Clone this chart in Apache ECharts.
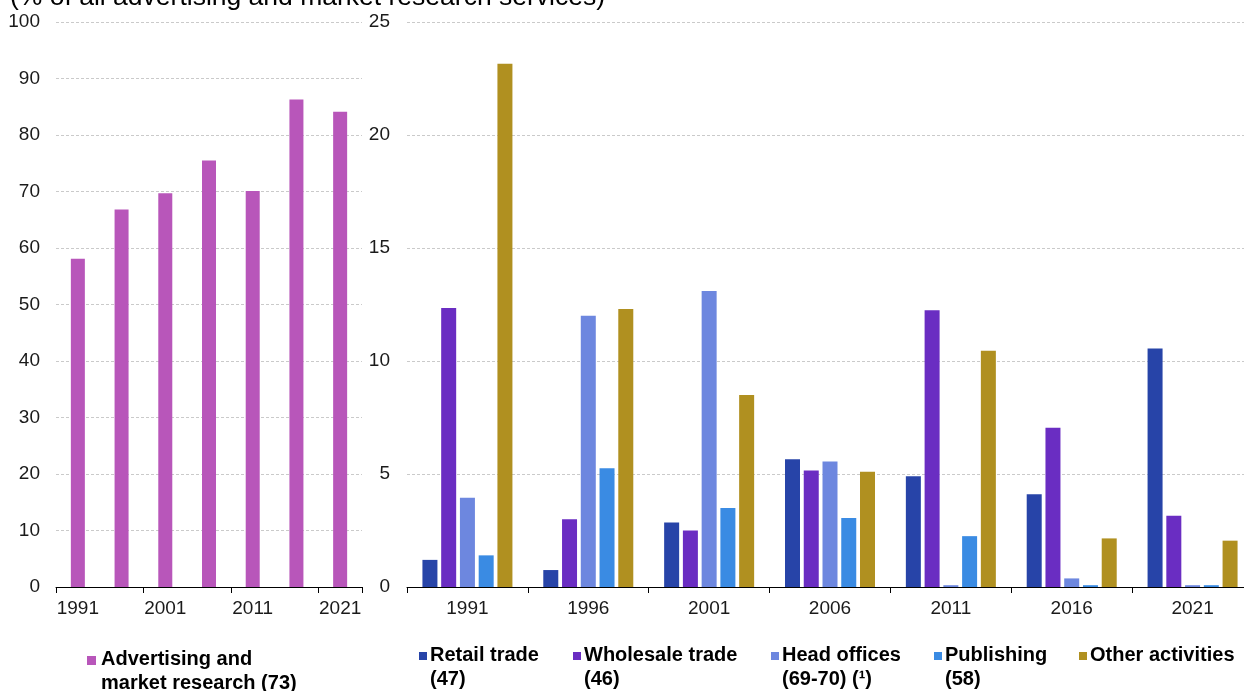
<!DOCTYPE html>
<html>
<head>
<meta charset="utf-8">
<script src="https://cdn.jsdelivr.net/npm/echarts@6/dist/echarts.min.js"></script>
<style>
  html, body { margin: 0; padding: 0; background: #fff; overflow: hidden; width: 1244px; height: 691px; }
  /* canvas is a little wider than the page so the right panel runs off the edge */
  #chart { width: 1254px; height: 691px; }
</style>
</head>
<body>
<div id="chart"></div>
<script>
// Census years shared by both panels
const years = ['1991', '1996', '2001', '2006', '2011', '2016', '2021'];

// Left panel: advertising and market research (% of all services)
const advertising = [58.1, 66.8, 69.7, 75.5, 70.1, 86.3, 84.1];

// Right panel: other activities (% of all services)
const retail = [1.2, 0.75, 2.85, 5.65, 4.9, 4.1, 10.55];
const wholesale = [12.35, 3.0, 2.5, 5.15, 12.25, 7.05, 3.15];
const headOffices = [3.95, 12.0, 13.1, 5.55, 0.08, 0.38, 0.08];
const publishing = [1.4, 5.25, 3.5, 3.05, 2.25, 0.08, 0.08];
const otherActivities = [23.15, 12.3, 8.5, 5.1, 10.45, 2.15, 2.05];

const leftTicks = [0, 10, 20, 30, 40, 50, 60, 70, 80, 90, 100];
const rightTicks = [0, 5, 10, 15, 20, 25];

const titleText = '(% of all advertising and market research services)';

const FONT = "'Liberation Sans', Arial, sans-serif";

const colors = {
  advertising: '#b856ba',
  retail: '#2744a8',
  wholesale: '#6a2dc2',
  headOffices: '#6d87df',
  publishing: '#3a8be3',
  other: '#b09020'
};

const legendLeft = [
  { name: 'Advertising and\nmarket research (73)', color: colors.advertising, x: 87 }
];
const legendRight = [
  { name: 'Retail trade\n(47)', color: colors.retail, x: 419 },
  { name: 'Wholesale trade\n(46)', color: colors.wholesale, x: 573 },
  { name: 'Head offices\n(69-70) (\u00b9)', color: colors.headOffices, x: 771 },
  { name: 'Publishing\n(58)', color: colors.publishing, x: 934 },
  { name: 'Other activities', color: colors.other, x: 1079 }
];

function legendGraphics(items, squareY, textY, textGap, size) {
  const out = [];
  items.forEach(it => {
    out.push({
      type: 'rect',
      shape: { x: it.x, y: squareY, width: size, height: size },
      style: { fill: it.color }
    });
    out.push({
      type: 'text',
      x: it.x + textGap,
      y: textY,
      style: {
        text: it.name,
        font: 'bold 20px ' + FONT,
        fill: '#000',
        lineHeight: 24,
        verticalAlign: 'top',
        align: 'left'
      }
    });
  });
  return out;
}

const axisLabelStyle = { color: '#1a1a1a', fontSize: 19, fontFamily: FONT };
const splitLineStyle = { show: true, lineStyle: { color: '#cacaca', type: [3, 2], width: 1 } };

const chart = echarts.init(document.getElementById('chart'), null, { renderer: 'canvas' });

function barSeries(name, data, color) {
  return {
    name: name,
    type: 'bar',
    xAxisIndex: 1,
    yAxisIndex: 1,
    data: data,
    barWidth: 15,
    barGap: '25%',
    itemStyle: { color: color }
  };
}

chart.setOption({
  backgroundColor: '#fff',
  animation: false,
  grid: [
    { left: 56, top: 22, width: 306, bottom: 104, containLabel: false },
    { left: 407, top: 22, width: 846, bottom: 104, containLabel: false }
  ],
  xAxis: [
    {
      gridIndex: 0,
      type: 'category',
      data: years,
      axisLine: { show: true, lineStyle: { color: '#000', width: 1 } },
      axisTick: { show: true, length: 6, lineStyle: { color: '#000' } },
      axisLabel: Object.assign({ interval: 1, margin: 12 }, axisLabelStyle)
    },
    {
      gridIndex: 1,
      type: 'category',
      data: years,
      axisLine: { show: true, lineStyle: { color: '#000', width: 1 } },
      axisTick: { show: true, length: 6, lineStyle: { color: '#000' } },
      axisLabel: Object.assign({ interval: 0, margin: 12 }, axisLabelStyle)
    }
  ],
  yAxis: [
    {
      gridIndex: 0,
      type: 'value',
      min: leftTicks[0],
      max: leftTicks[leftTicks.length - 1],
      interval: 10,
      axisLine: { show: false },
      axisTick: { show: false },
      axisLabel: Object.assign({ margin: 16 }, axisLabelStyle),
      splitLine: splitLineStyle
    },
    {
      gridIndex: 1,
      type: 'value',
      min: rightTicks[0],
      max: rightTicks[rightTicks.length - 1],
      interval: 5,
      axisLine: { show: false },
      axisTick: { show: false },
      axisLabel: Object.assign({ margin: 17 }, axisLabelStyle),
      splitLine: splitLineStyle
    }
  ],
  series: [
    {
      name: 'Advertising and market research (73)',
      type: 'bar',
      xAxisIndex: 0,
      yAxisIndex: 0,
      data: advertising,
      barWidth: 14,
      itemStyle: { color: colors.advertising }
    },
    barSeries('Retail trade (47)', retail, colors.retail),
    barSeries('Wholesale trade (46)', wholesale, colors.wholesale),
    barSeries('Head offices (69-70) (\u00b9)', headOffices, colors.headOffices),
    barSeries('Publishing (58)', publishing, colors.publishing),
    barSeries('Other activities', otherActivities, colors.other)
  ],
  graphic: [
    {
      type: 'text',
      x: 10,
      y: -2,
      style: {
        text: titleText,
        font: '26.5px ' + FONT,
        fill: '#000',
        verticalAlign: 'middle',
        align: 'left'
      }
    }
  ].concat(legendGraphics(legendLeft, 656, 647, 14, 9))
   .concat(legendGraphics(legendRight, 652, 643, 11, 8))
});
</script>
</body>
</html>
